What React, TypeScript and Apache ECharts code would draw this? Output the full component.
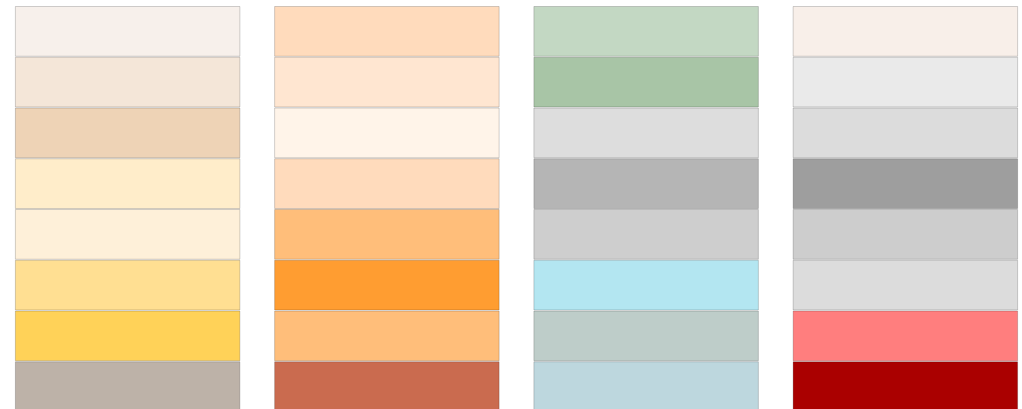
import React, { useEffect, useRef } from "react";
import * as echarts from "echarts";

// Palette columns, rows listed top to bottom
const columns = ["A", "B", "C", "D"];
const rowCount = 8;
const colA = ["#F7F0EB", "#F4E6D8", "#EED3B6", "#FFEDCA", "#FEF0D9", "#FFDF92", "#FFD258", "#BDB2A8"];
const colB = ["#FFDBBC", "#FFE6D1", "#FFF4E9", "#FFDBBC", "#FFBE7A", "#FF9D31", "#FFBE7A", "#CA6B4F"];
const colC = ["#C3D8C3", "#A8C5A6", "#DDDDDD", "#B5B5B5", "#CECECE", "#B3E6F1", "#BECDC9", "#BDD7DE"];
const colD = ["#F8EFE9", "#EAEAEA", "#DCDCDC", "#9E9E9E", "#CDCDCD", "#DCDCDC", "#FF7E7E", "#AA0000"];
const palette = [colA, colB, colC, colD];

export default function App() {
  const ref = useRef<HTMLDivElement>(null);
  useEffect(() => {
    if (!ref.current) return;
    const chart = echarts.init(ref.current, undefined, { renderer: "svg" });
    // stacked from bottom: series 0 is bottom row (index 7)
    const series = [] as any[];
    for (let s = 0; s < rowCount; s++) {
      const rowIdx = rowCount - 1 - s;
      series.push({
        type: "bar",
        stack: "swatch",
        barWidth: 225.5,
        data: palette.map((col) => ({
          value: 1,
          itemStyle: { color: col[rowIdx] },
        })),
        itemStyle: { borderColor: "rgba(0,0,0,0.18)", borderWidth: 1 },
        emphasis: { disabled: true },
      });
    }
    chart.setOption({
      animation: false,
      grid: { left: 0, right: 0, top: 0, bottom: 0 },
      xAxis: {
        type: "category",
        data: columns,
        show: false,
      },
      yAxis: { type: "value", min: 0, max: rowCount, show: false },
      series,
    });
    return () => chart.dispose();
  }, []);
  return (
    <div style={{ position: "fixed", left: 0, top: 0, width: 1022, height: 409, background: "#fff", overflow: "hidden" }}>
      <div
        ref={ref}
        style={{ position: "absolute", left: -2.35, top: 5.5, width: 1036.8, height: 405.6 }}
      />
    </div>
  );
}
